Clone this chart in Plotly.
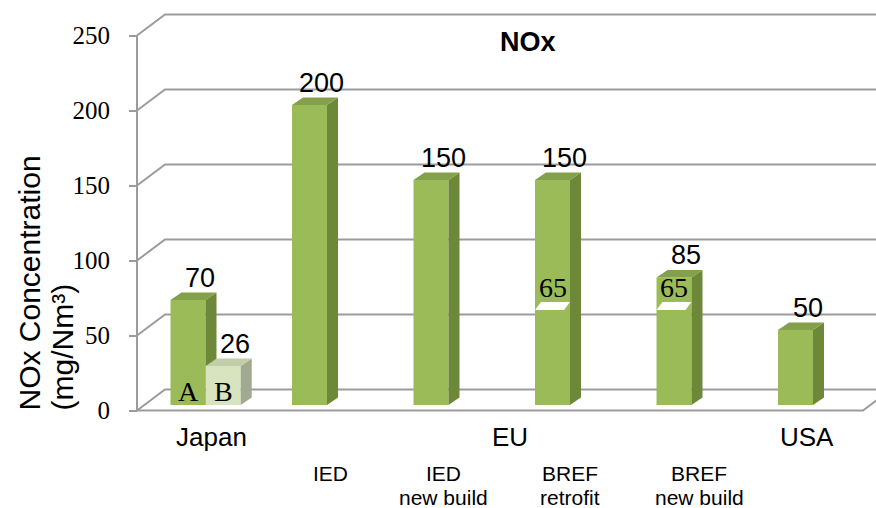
import plotly.graph_objects as go

# ---------------- data ----------------
bar_names = ["Japan A", "Japan B", "EU IED", "EU IED new build",
             "EU BREF retrofit", "EU BREF new build", "USA"]
bar_values = [70, 26, 200, 150, 150, 85, 50]
bar_positions = [1.0, 1.29, 2.0, 3.0, 4.0, 5.0, 6.0]
bar_tones = ["dark", "light", "dark", "dark", "dark", "dark", "dark"]
inner_labels = ["A", "B", "", "", "", "", ""]
marker_value = 65                 # "65" level shown on the BREF bars
marker_bars = ["EU BREF retrofit", "EU BREF new build"]
y_ticks = [0, 50, 100, 150, 200, 250]
group_labels = ["Japan", "EU", "USA"]
sub_labels = [["IED"], ["IED", "new build"], ["BREF", "retrofit"], ["BREF", "new build"]]
chart_title = "NOx"
y_title_1 = "NOx Concentration"
y_title_2 = "(mg/Nm³)"

# ---------------- geometry / style ----------------
W, H = 876, 508
ML, MR, MT, MB = 120, 0, 8, 88
PLOT_W = W - ML - MR
PLOT_H = H - MT - MB
UNIT_PX = 121.5            # px per x unit
IED_PX = 309.5             # pixel centre of x=2
X_LO = 2 - (IED_PX - ML) / UNIT_PX
X_HI = 2 + (W - MR - IED_PX) / UNIT_PX
Y_PX_PER = 1.5
Y_ZERO_PX = 410.5
Y_LO = (Y_ZERO_PX - (MT + PLOT_H)) / Y_PX_PER
Y_HI = (Y_ZERO_PX - MT) / Y_PX_PER
AX = 2 - (IED_PX - 137) / UNIT_PX        # front axis x
DX, DY = 28 / UNIT_PX, 21 / Y_PX_PER       # depth of the back wall
FLOOR_RIGHT = 2 + (863 - IED_PX) / UNIT_PX
BASE = 5.5 / Y_PX_PER                      # bar plane offset
BW = 35 / UNIT_PX                          # bar width
SDX, SDY = 11 / UNIT_PX, 7.5 / Y_PX_PER    # bar depth

GRID = "#9b9b9b"
TONES = {
    "dark": ("#9bbb59", "#6e883a", "#83a04a"),
    "light": ("#d8e4bf", "#a1a991", "#c2ceaa"),
}
SANS = "Liberation Sans, Arial, sans-serif"
SERIF = "Liberation Serif, Times New Roman, serif"


def paper(px, py):
    return (px - ML) / PLOT_W, (MT + PLOT_H - py) / PLOT_H


fig = go.Figure()

# frame: back wall grid lines, floor, front axis
shapes = []
for v in y_ticks:
    shapes.append(dict(type="path", xref="x", yref="y", layer="below",
                       path=f"M {AX},{v} L {AX + DX},{v + DY} L {X_HI + 1},{v + DY}",
                       line=dict(color=GRID, width=2)))
shapes.append(dict(type="path", xref="x", yref="y", layer="below",
                   path=f"M {AX},0 L {FLOOR_RIGHT},0 L {FLOOR_RIGHT + DX},{DY}",
                   line=dict(color=GRID, width=2)))
shapes.append(dict(type="line", xref="x", yref="y", layer="above",
                   x0=AX, x1=AX, y0=0, y1=max(y_ticks),
                   line=dict(color=GRID, width=2)))


def poly(xs, ys, color, name):
    fig.add_trace(go.Scatter(x=xs + [xs[0]], y=ys + [ys[0]], fill="toself",
                             fillcolor=color, mode="lines",
                             line=dict(width=0, color=color),
                             hoverinfo="text", text=name, showlegend=False))


annotations = []
for name, val, pos, tone, inner in zip(bar_names, bar_values, bar_positions,
                                       bar_tones, inner_labels):
    front, side, top = TONES[tone]
    xl, xr = pos - BW / 2, pos + BW / 2
    b, t = BASE, BASE + val
    poly([xl, xr, xr, xl], [b, b, t, t], front, f"{name}: {val}")
    poly([xr, xr + SDX, xr + SDX, xr], [b, b + SDY, t + SDY, t], side, f"{name}: {val}")
    poly([xl, xr, xr + SDX, xl + SDX], [t, t, t + SDY, t + SDY], top, f"{name}: {val}")
    annotations.append(dict(x=pos + 0.1, y=t + 14.7, xref="x", yref="y",
                            text=str(val), showarrow=False, xanchor="center",
                            yanchor="middle", font=dict(family=SANS, size=27, color="black")))
    if inner:
        annotations.append(dict(x=pos, y=b + 9.3, xref="x", yref="y", text=inner,
                                showarrow=False, xanchor="center", yanchor="middle",
                                font=dict(family=SERIF, size=28, color="black")))
    if name in marker_bars:
        vb, vt = BASE + marker_value - 1.7, BASE + marker_value + 3.6
        sk = 6 / UNIT_PX
        poly([xl, xr - sk, xr, xl + sk], [vb, vb, vt, vt], "white", f"{name}: {marker_value}")
        annotations.append(dict(x=pos, y=BASE + marker_value + 13.3, xref="x", yref="y",
                                text=str(marker_value), showarrow=False,
                                xanchor="center", yanchor="middle",
                                font=dict(family=SERIF, size=28, color="black")))

# title
tx, ty = paper(528, 42)
annotations.append(dict(x=tx, y=ty, xref="paper", yref="paper", text=f"<b>{chart_title}</b>",
                        showarrow=False, xanchor="center", yanchor="middle",
                        font=dict(family=SANS, size=27, color="black")))
# y-axis title (two lines, both starting at the bottom)
for txt, px in zip([y_title_1, y_title_2], [29, 62]):
    ax_, ay_ = paper(px, 413)
    annotations.append(dict(x=ax_, y=ay_, xref="paper", yref="paper", text=txt,
                            textangle=-90, showarrow=False, xanchor="center",
                            yanchor="bottom", font=dict(family=SANS, size=30, color="black")))
# group labels
for txt, (px, py) in zip(group_labels, [(211, 437), (510, 437), (807, 437)]):
    gx, gy = paper(px, py)
    annotations.append(dict(x=gx, y=gy, xref="paper", yref="paper", text=txt,
                            showarrow=False, xanchor="center", yanchor="middle",
                            font=dict(family=SANS, size=26, color="black")))
# sub labels
for lines, px in zip(sub_labels, [330, 443, 570, 699]):
    for i, txt in enumerate(lines):
        sx, sy = paper(px, 473 + 25 * i)
        annotations.append(dict(x=sx, y=sy, xref="paper", yref="paper", text=txt,
                                showarrow=False, xanchor="center", yanchor="middle",
                                font=dict(family=SANS, size=21, color="black")))

fig.update_layout(
    width=W, height=H,
    margin=dict(l=ML, r=MR, t=MT, b=MB),
    paper_bgcolor="white", plot_bgcolor="white",
    showlegend=False,
    shapes=shapes,
    annotations=annotations,
    xaxis=dict(range=[X_LO, X_HI], visible=False, fixedrange=True),
    yaxis=dict(range=[Y_LO, Y_HI], anchor="free", position=(137 - ML) / PLOT_W,
               showgrid=False, zeroline=False, showline=False,
               tickmode="array", tickvals=y_ticks, ticktext=[str(v) for v in y_ticks],
               ticks="outside", ticklen=8, tickwidth=2, tickcolor=GRID,
               ticklabelstandoff=14,
               tickfont=dict(family=SERIF, size=25, color="black"), fixedrange=True),
)

fig.write_html("out.html")
